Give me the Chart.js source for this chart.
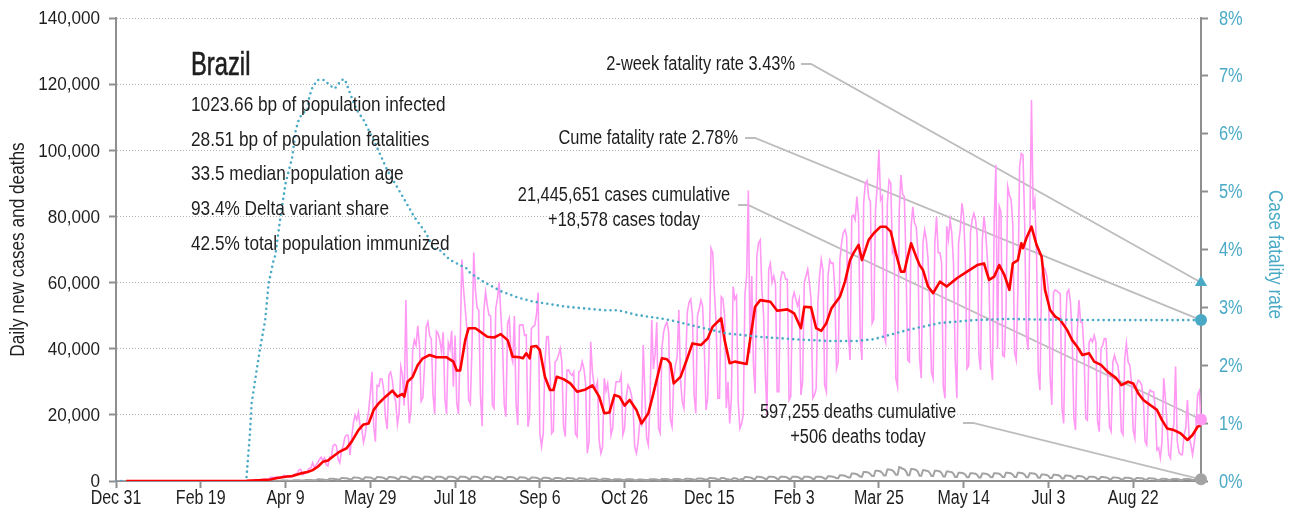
<!DOCTYPE html>
<html>
<head>
<meta charset="utf-8">
<title>Brazil – daily cases, deaths and case fatality rate</title>
<script src="https://cdn.jsdelivr.net/npm/chart.js@4.4.1/dist/chart.umd.min.js"></script>
<style>
  html, body { margin: 0; padding: 0; background: #fff; }
  #wrap { width: 1294px; height: 520px; }
</style>
</head>
<body>
<div id="wrap"><canvas id="chart" width="1294" height="520"></canvas></div>
<script>
// x axis: days since Dec 31, 2019
const tickDays = [0, 50, 100, 150, 200, 250, 300, 350, 400, 450, 500, 550, 600];
const tickLabels = ["Dec 31", "Feb 19", "Apr 9", "May 29", "Jul 18", "Sep 6", "Oct 26",
  "Dec 15", "Feb 3", "Mar 25", "May 14", "Jul 3", "Aug 22"];

// daily new cases (thousands), one row per week Sun..Sat
const dailyCases = [
  0, 0, 0, 0, 0,
  0, 0, 0, 0, 0, 0, 0,
  0, 0, 0, 0, 0, 0, 0,
  0, 0, 0, 0, 0, 0, 0,
  0, 0, 0, 0, 0, 0, 0,
  0, 0, 0, 0, 0, 0, 0,
  0, 0, 0, 0, 0, 0, 0,
  0, 0, 0, 0, 0, 0, 0,
  0, 0, 0, 0.001, 0, 0, 0.001,
  0, 0, 0.001, 0.001, 0.004, 0.005, 0.006,
  0.005, 0.006, 0.009, 0.018, 0.02, 0.052, 0.023,
  0.079, 0.034, 0.057, 0.137, 0.193, 0.283, 0.224,
  0.418, 0.345, 0.31, 0.232, 0.482, 0.502, 0.487,
  0.352, 0.323, 1.138, 1.119, 1.074, 1.146, 1.222,
  0.852, 0.926, 1.2, 1.7, 1.5, 1.6, 1.1,
  1.2, 1.3, 1.9, 2.2, 2.3, 3.4, 3.5,
  1.9, 2.2, 2.4, 3.1, 3.8, 4.0, 5.5,
  4.0, 4.8, 5.6, 6.5, 7.2, 6.2, 7.0,
  4.9, 4.5, 7.2, 7.0, 10.6, 11.1, 10.6,
  6.6, 5.5, 9.2, 10.6, 13.2, 13.9, 13.8,
  7.9, 13.1, 17.4, 19.9, 18.5, 20.8, 16.5,
  15.8, 11.7, 14.0, 18.0, 21.0, 26.5, 33.0,
  16.4, 11.9, 28.9, 28.6, 30.9, 30.8, 27.1,
  18.9, 15.7, 32.1, 32.9, 30.4, 25.9, 24.0,
  17.1, 20.6, 34.6, 32.2, 22.8, 54.7, 28.0,
  17.5, 21.4, 39.4, 42.6, 41.0, 46.9, 41.0,
  24.1, 25.2, 35.0, 46.7, 48.1, 44.0, 42.9,
  26.1, 20.2, 45.3, 44.6, 42.6, 39.0, 45.0,
  24.8, 20.3, 41.8, 39.9, 45.4, 28.5, 44.0,
  23.5, 20.3, 41.0, 67.0, 58.0, 52.0, 46.0,
  24.6, 23.3, 40.8, 69.1, 57.8, 52.4, 51.6,
  25.8, 16.6, 51.6, 57.2, 53.1, 50.2, 49.9,
  23.0, 22.0, 52.2, 55.2, 60.1, 50.6, 41.6,
  23.1, 19.4, 47.8, 49.2, 38.0, 36.0, 49.9,
  23.4, 16.9, 47.1, 47.2, 47.2, 44.0, 44.2,
  16.4, 20.0, 46.0, 46.7, 47.0, 50.2, 57.0,
  14.5, 10.4, 14.3, 35.8, 43.6, 43.7, 33.5,
  14.4, 15.2, 36.0, 36.6, 38.0, 40.0, 36.0,
  16.4, 13.4, 33.5, 33.6, 32.4, 31.9, 33.0,
  14.3, 13.4, 33.0, 33.5, 36.1, 34.0, 29.5,
  8.4, 11.8, 42.1, 33.0, 29.0, 28.0, 30.0,
  12.3, 8.4, 10.2, 31.1, 27.2, 29.4, 24.1,
  13.9, 16.0, 26.0, 30.0, 30.0, 30.0, 32.0,
  14.0, 16.0, 25.5, 29.0, 28.0, 26.0, 22.5,
  10.1, 8.4, 12.0, 18.0, 17.0, 41.1, 26.4,
  13.0, 10.9, 23.9, 48.7, 33.9, 38.3, 48.0,
  16.0, 14.5, 40.0, 45.0, 47.0, 48.0, 45.0,
  18.6, 16.4, 31.0, 35.0, 37.5, 51.7, 30.3,
  24.0, 22.0, 35.0, 51.0, 54.0, 55.0, 50.2,
  26.0, 20.5, 50.0, 52.0, 54.7, 53.0, 41.3,
  21.5, 25.0, 42.0, 70.4, 69.0, 57.0, 47.6,
  25.0, 25.0, 55.7, 55.0, 50.0, 22.0, 30.0,
  17.4, 25.0, 58.8, 55.0, 56.0, 24.0, 15.9,
  17.3, 20.0, 56.6, 62.0, 87.8, 38.6, 62.0,
  35.4, 26.5, 68.0, 72.0, 72.9, 58.0, 50.0,
  33.0, 19.4, 64.0, 65.8, 60.0, 62.0, 59.8,
  27.0, 27.0, 61.0, 63.3, 63.0, 61.0, 61.0,
  24.5, 25.5, 55.0, 57.0, 55.0, 53.0, 55.0,
  26.0, 30.0, 60.0, 62.0, 64.0, 60.0, 55.0,
  25.0, 26.0, 28.0, 53.7, 62.0, 67.0, 63.8,
  29.0, 27.0, 62.0, 66.8, 65.8, 65.9, 58.0,
  34.0, 36.0, 67.0, 72.0, 75.0, 76.0, 74.0,
  44.0, 36.6, 80.0, 80.4, 79.0, 86.0, 80.0,
  43.0, 36.6, 84.0, 90.0, 90.8, 85.6, 84.5,
  47.7, 49.0, 82.0, 89.0, 100.2, 85.0, 86.1,
  44.0, 42.0, 84.0, 91.0, 90.0, 69.0, 70.0,
  31.0, 28.5, 82.0, 92.5, 86.6, 86.0, 66.0,
  36.6, 36.0, 77.0, 82.9, 78.0, 77.0, 69.6,
  37.0, 31.1, 72.0, 75.9, 73.0, 67.0, 53.5,
  33.0, 31.0, 72.0, 79.9, 69.0, 69.0, 66.1,
  28.6, 25.0, 77.0, 73.0, 78.9, 75.0, 66.0,
  37.0, 25.0, 72.0, 76.0, 84.0, 80.0, 67.0,
  34.0, 35.0, 75.0, 79.0, 80.9, 79.0, 74.2,
  38.0, 33.6, 73.0, 80.0, 75.0, 67.0, 59.0,
  36.0, 30.5, 78.0, 95.6, 40.0, 83.0, 81.4,
  38.0, 37.6, 52.0, 89.0, 86.5, 85.0, 77.4,
  39.0, 36.6, 58.0, 95.0, 99.0, 98.6, 77.8,
  44.0, 39.6, 73.0, 115.2, 82.0, 85.0, 68.7,
  33.0, 27.5, 62.0, 64.8, 64.0, 62.0, 57.7,
  32.0, 23.0, 57.0, 57.8, 57.5, 57.0, 56.6,
  22.0, 17.4, 46.0, 57.0, 57.8, 54.0, 44.0,
  19.0, 15.4, 45.0, 54.7, 48.0, 48.0, 39.4,
  19.0, 18.4, 42.0, 43.0, 42.0, 44.0, 42.0,
  18.0, 14.9, 40.0, 41.0, 43.1, 43.0, 31.0,
  16.4, 15.0, 36.0, 38.0, 36.0, 35.0, 30.1,
  15.0, 14.0, 37.0, 41.6, 36.0, 35.0, 30.0,
  15.4, 13.0, 29.0, 30.5, 30.0, 29.0, 24.6,
  12.0, 10.9, 26.0, 27.5, 27.0, 27.0, 22.2,
  9.4, 10.0, 7.0, 12.0, 31.1, 25.0, 16.8,
  8.0, 6.9, 15.0, 17.0, 34.6, 12.0, 8.7,
  8.0, 7.9, 14.0, 16.0, 24.5, 13.0, 11.1,
  8.0, 11.4, 16.0, 26.0, 27.2, 18.578
];

// daily new deaths (thousands), same layout
const dailyDeaths = [
  0, 0, 0, 0, 0,
  0, 0, 0, 0, 0, 0, 0,
  0, 0, 0, 0, 0, 0, 0,
  0, 0, 0, 0, 0, 0, 0,
  0, 0, 0, 0, 0, 0, 0,
  0, 0, 0, 0, 0, 0, 0,
  0, 0, 0, 0, 0, 0, 0,
  0, 0, 0, 0, 0, 0, 0,
  0, 0, 0, 0, 0, 0, 0,
  0, 0, 0, 0, 0, 0, 0,
  0, 0, 0, 0, 0, 0, 0,
  0, 0, 0.001, 0.002, 0.003, 0.004, 0.007,
  0.007, 0.009, 0.012, 0.011, 0.013, 0.019, 0.022,
  0.022, 0.027, 0.042, 0.039, 0.058, 0.061, 0.073,
  0.054, 0.067, 0.114, 0.133, 0.141, 0.115, 0.068,
  0.10, 0.10, 0.21, 0.21, 0.20, 0.20, 0.16,
  0.15, 0.15, 0.31, 0.31, 0.30, 0.29, 0.24,
  0.24, 0.24, 0.50, 0.50, 0.48, 0.46, 0.38,
  0.33, 0.33, 0.69, 0.69, 0.66, 0.63, 0.52,
  0.42, 0.42, 0.88, 0.88, 0.84, 0.81, 0.67,
  0.51, 0.51, 1.06, 1.06, 1.02, 0.98, 0.81,
  0.54, 0.54, 1.13, 1.13, 1.08, 1.04, 0.86,
  0.57, 0.57, 1.19, 1.19, 1.14, 1.09, 0.90,
  0.57, 0.57, 1.19, 1.19, 1.14, 1.09, 0.90,
  0.60, 0.60, 1.25, 1.25, 1.20, 1.15, 0.95,
  0.60, 0.60, 1.25, 1.25, 1.20, 1.15, 0.95,
  0.63, 0.63, 1.31, 1.31, 1.26, 1.21, 1.00,
  0.63, 0.63, 1.31, 1.31, 1.26, 1.21, 1.00,
  0.63, 0.63, 1.31, 1.31, 1.26, 1.21, 1.00,
  0.63, 0.63, 1.31, 1.31, 1.26, 1.21, 1.00,
  0.63, 0.63, 1.31, 1.31, 1.26, 1.21, 1.00,
  0.60, 0.60, 1.25, 1.25, 1.20, 1.15, 0.95,
  0.60, 0.60, 1.25, 1.25, 1.20, 1.15, 0.95,
  0.59, 0.59, 1.23, 1.23, 1.18, 1.13, 0.93,
  0.54, 0.54, 1.13, 1.13, 1.08, 1.04, 0.86,
  0.51, 0.51, 1.06, 1.06, 1.02, 0.98, 0.81,
  0.48, 0.48, 1.00, 1.00, 0.96, 0.92, 0.76,
  0.45, 0.45, 0.94, 0.94, 0.90, 0.86, 0.71,
  0.42, 0.42, 0.88, 0.88, 0.84, 0.81, 0.67,
  0.39, 0.39, 0.81, 0.81, 0.78, 0.75, 0.62,
  0.36, 0.36, 0.75, 0.75, 0.72, 0.69, 0.57,
  0.33, 0.33, 0.69, 0.69, 0.66, 0.63, 0.52,
  0.27, 0.27, 0.56, 0.56, 0.54, 0.52, 0.43,
  0.27, 0.27, 0.56, 0.56, 0.54, 0.52, 0.43,
  0.21, 0.21, 0.44, 0.44, 0.42, 0.40, 0.33,
  0.27, 0.27, 0.56, 0.56, 0.54, 0.52, 0.43,
  0.30, 0.30, 0.63, 0.63, 0.60, 0.58, 0.48,
  0.30, 0.30, 0.63, 0.63, 0.60, 0.58, 0.48,
  0.33, 0.33, 0.69, 0.69, 0.66, 0.63, 0.52,
  0.36, 0.36, 0.75, 0.75, 0.72, 0.69, 0.57,
  0.42, 0.42, 0.88, 0.88, 0.84, 0.81, 0.67,
  0.42, 0.42, 0.88, 0.88, 0.84, 0.55, 0.50,
  0.39, 0.39, 0.81, 0.81, 0.78, 0.45, 0.40,
  0.57, 0.57, 1.19, 1.19, 1.14, 1.09, 0.90,
  0.60, 0.60, 1.25, 1.25, 1.20, 1.15, 0.95,
  0.63, 0.63, 1.31, 1.31, 1.26, 1.21, 1.00,
  0.63, 0.63, 1.31, 1.31, 1.26, 1.21, 1.00,
  0.63, 0.63, 1.31, 1.31, 1.26, 1.21, 1.00,
  0.63, 0.63, 1.31, 1.31, 1.26, 1.21, 1.00,
  0.63, 0.63, 1.31, 1.31, 1.26, 1.21, 1.00,
  0.69, 0.69, 1.44, 1.44, 1.38, 1.32, 1.09,
  0.84, 0.84, 1.75, 1.75, 1.68, 1.61, 1.33,
  1.08, 1.08, 2.25, 2.25, 2.16, 2.07, 1.71,
  1.32, 1.32, 2.75, 2.75, 2.64, 2.53, 2.09,
  1.50, 1.50, 3.13, 3.13, 3.00, 2.88, 2.38,
  1.68, 1.68, 3.50, 3.50, 3.36, 3.22, 2.66,
  1.86, 1.86, 4.20, 4.00, 3.70, 3.50, 2.90,
  1.74, 1.74, 3.63, 3.63, 3.48, 3.34, 2.76,
  1.56, 1.56, 3.25, 3.25, 3.12, 2.99, 2.47,
  1.50, 1.50, 3.13, 3.13, 3.00, 2.88, 2.38,
  1.38, 1.38, 2.88, 2.88, 2.76, 2.65, 2.19,
  1.20, 1.20, 2.50, 2.50, 2.40, 2.30, 1.90,
  1.14, 1.14, 2.38, 2.38, 2.28, 2.19, 1.81,
  1.08, 1.08, 2.25, 2.25, 2.16, 2.07, 1.71,
  1.14, 1.14, 2.38, 2.38, 2.28, 2.19, 1.81,
  1.20, 1.20, 2.50, 2.50, 2.40, 2.30, 1.90,
  1.20, 1.20, 2.50, 2.50, 2.40, 2.30, 1.90,
  1.14, 1.14, 2.38, 2.38, 2.28, 2.19, 1.81,
  0.96, 0.96, 2.00, 2.00, 1.92, 1.84, 1.52,
  0.90, 0.90, 1.88, 1.88, 1.80, 1.73, 1.43,
  0.78, 0.78, 1.63, 1.63, 1.56, 1.50, 1.24,
  0.72, 0.72, 1.50, 1.50, 1.44, 1.38, 1.14,
  0.63, 0.63, 1.31, 1.31, 1.26, 1.21, 1.00,
  0.57, 0.57, 1.19, 1.19, 1.14, 1.09, 0.90,
  0.51, 0.51, 1.06, 1.06, 1.02, 0.98, 0.81,
  0.48, 0.48, 1.00, 1.00, 0.96, 0.92, 0.76,
  0.42, 0.42, 0.88, 0.88, 0.84, 0.81, 0.67,
  0.39, 0.39, 0.81, 0.81, 0.78, 0.75, 0.62,
  0.33, 0.33, 0.45, 0.69, 0.66, 0.63, 0.52,
  0.30, 0.30, 0.63, 0.63, 0.60, 0.58, 0.48,
  0.30, 0.30, 0.63, 0.63, 0.60, 0.58, 0.48,
  0.33, 0.33, 0.69, 0.69, 0.63, 0.506
];

// 7-day average of new cases (thousands)
const avgDays = [
  6, 60, 70, 77, 84, 91, 95, 100, 104, 109,
  113, 116, 119, 122, 125, 128, 132, 136, 139, 143,
  146, 149, 152, 155, 159, 163, 166, 169, 170, 172,
  175, 178, 181, 185, 189, 195, 199, 201, 203, 206,
  208, 212, 215, 219, 223, 227, 231, 234, 238, 240,
  242, 244, 245, 248, 250, 253, 256, 258, 260, 264,
  268, 272, 277, 281, 285, 288, 291, 294, 297, 300,
  303, 307, 310, 314, 317, 322, 325, 327, 329, 333,
  337, 340, 345, 349, 352, 357, 359, 362, 365, 372,
  374, 377, 380, 386, 390, 396, 400, 404, 406, 410,
  413, 416, 419, 422, 427, 430, 433, 435, 438, 440,
  444, 447, 451, 454, 457, 460, 463, 465, 467, 469,
  472, 474, 476, 479, 482, 486, 490, 496, 502, 508,
  512, 515, 518, 521, 524, 527, 529, 532, 534, 535,
  537, 540, 543, 546, 548, 551, 554, 557, 561, 564,
  567, 570, 574, 577, 581, 585, 590, 593, 597, 600,
  603, 606, 610, 614, 617, 620, 624, 628, 632, 635,
  638, 640
];
const avgCases = [
  0, 0, 0.01, 0.05, 0.25, 0.45, 0.9, 1.3, 1.5, 2.3,
  2.7, 3.3, 4.3, 5.8, 6.2, 7.4, 8.9, 9.9, 11.9, 15.4,
  17.1, 17.4, 21.5, 23.5, 25.5, 27.3, 25.5, 26.3, 25.5, 30.0,
  31.5, 35.1, 37.1, 38.1, 37.4, 37.4, 36.1, 33.4, 33.4, 42.6,
  46.2, 46.2, 45.1, 43.6, 43.4, 44.4, 42.6, 37.6, 37.4, 37.1,
  38.6, 37.1, 40.6, 40.8, 39.6, 31.5, 27.5, 27.5, 31.5, 30.8,
  29.5, 27.0, 27.7, 28.9, 25.5, 20.5, 20.7, 26.0, 25.5, 22.8,
  24.5, 21.5, 17.4, 20.5, 26.5, 37.1, 36.8, 35.6, 29.5, 31.5,
  37.1, 41.6, 41.1, 43.1, 46.7, 49.2, 42.6, 35.6, 36.1, 35.4,
  42.6, 52.7, 54.7, 54.2, 51.5, 51.9, 50.7, 46.2, 52.7, 52.5,
  46.2, 45.4, 47.7, 52.2, 55.7, 60.3, 66.8, 68.9, 71.4, 66.8,
  72.9, 74.9, 76.9, 76.9, 75.4, 68.9, 63.3, 63.3, 67.8, 71.9,
  67.8, 65.3, 63.8, 58.8, 56.8, 60.3, 58.8, 61.3, 63.3, 65.3,
  65.8, 60.8, 61.8, 65.3, 62.3, 57.8, 65.8, 66.8, 71.9, 70.4,
  73.4, 76.9, 71.4, 67.8, 57.8, 51.7, 49.7, 48.7, 45.7, 42.6,
  40.6, 38.1, 38.6, 36.1, 35.1, 33.0, 31.1, 29.0, 30.0, 29.5,
  26.5, 24.5, 23.0, 21.5, 18.4, 15.9, 15.4, 14.4, 12.4, 13.9,
  16.4, 16.9
];

// cumulative case fatality rate (%)
const cfrDays = [
  0, 4, 5, 77, 79, 80, 83, 85, 88, 90,
  93, 94, 97, 100, 104, 106, 108, 110, 113, 114,
  116, 119, 123, 126, 129, 133, 135, 138, 142, 146,
  152, 160, 168, 176, 183, 187, 191, 197, 207, 209,
  217, 227, 237, 246, 266, 288, 296, 307, 321, 327,
  341, 360, 380, 400, 419, 437, 447, 467, 486, 506,
  526, 545, 580, 640
];
const cfrRate = [
  0, 0, null, 0.07, 0.82, 1.34, 1.92, 2.29, 2.78, 3.41,
  3.82, 3.90, 4.56, 5.14, 5.60, 6.06, 6.26, 6.35, 6.41, 6.64,
  6.81, 6.93, 6.93, 6.84, 6.78, 6.93, 6.94, 6.70, 6.41, 6.24,
  5.89, 5.37, 4.97, 4.56, 4.28, 4.02, 3.99, 3.82, 3.67, 3.59,
  3.44, 3.28, 3.17, 3.10, 3.01, 2.95, 2.95, 2.87, 2.81, 2.78,
  2.68, 2.55, 2.49, 2.45, 2.42, 2.42, 2.45, 2.61, 2.73, 2.78,
  2.80, 2.79, 2.78, 2.78
];

const country = "Brazil";
const infoLines = [
  "1023.66 bp of population infected",
  "28.51 bp of population fatalities",
  "33.5 median population age",
  "93.4% Delta variant share",
  "42.5% total population immunized"
];
const twoWeekRate = 3.43;
const cumeRate = 2.78;
const casesCumulative = 21445651;
const deathsCumulative = 597255;

// no condensed face is installed, so text is drawn narrowed by hand
const FONT = '"Liberation Sans", Arial, sans-serif';
const TEAL = "#4aaac6";
const PINK = "#ff99f4";
const RED = "#ff0000";
const GREY = "#a3a3a3";
const AXIS = "#8f8f8f";
const GRID = "#b4b4b4";
const LEADER = "#bdbdbd";
const INK = "#1e1e1e";

Chart.defaults.font.family = FONT;

const lastDay = dailyCases.length - 1;
const casesToday = Math.round(dailyCases[lastDay] * 1000);
const deathsToday = Math.round(dailyDeaths[lastDay] * 1000);
const fmt = (n) => n.toLocaleString("en-US");

const daily = (arr) => arr.map((v, i) => ({ x: i, y: v * 1000 }));
const paired = (xs, ys, k) => xs.map((d, i) => ({ x: d, y: ys[i] === null ? null : ys[i] * k }));

function narrowText(ctx, text, x, y, o) {
  ctx.save();
  ctx.translate(x, y);
  if (o.rotate) ctx.rotate(o.rotate);
  ctx.scale(o.squeeze || 0.82, 1);
  ctx.font = o.size + "px " + FONT;
  ctx.fillStyle = o.color || INK;
  ctx.textAlign = o.align || "left";
  ctx.textBaseline = o.baseline || "middle";
  ctx.fillText(text, 0, 0);
  if (o.stroke) {
    ctx.strokeStyle = o.color || INK;
    ctx.lineWidth = o.stroke;
    ctx.strokeText(text, 0, 0);
  }
  ctx.restore();
}

// callouts on the right: text block, where its leader starts, and the value it points to
const callouts = [
  { lines: ["2-week fatality rate " + twoWeekRate.toFixed(2) + "%"], align: "right",
    tx: 795, ty: 64, sx: 801, sy: 64, axis: "y1", value: twoWeekRate },
  { lines: ["Cume fatality rate " + cumeRate.toFixed(2) + "%"], align: "right",
    tx: 738, ty: 138, sx: 745, sy: 138, axis: "y1", value: cumeRate },
  { lines: [fmt(casesCumulative) + " cases cumulative", "+" + fmt(casesToday) + " cases today"],
    align: "center", tx: 624, ty: 195, sx: 738, sy: 205, axis: "y", value: casesToday },
  { lines: [fmt(deathsCumulative) + " deaths cumulative", "+" + fmt(deathsToday) + " deaths today"],
    align: "center", tx: 858, ty: 412, sx: 963, sy: 423, axis: "y", value: deathsToday }
];

const textLayer = {
  id: "textLayer",
  beforeDatasetsDraw(chart) {
    const { ctx, scales } = chart;
    const ex = scales.x.getPixelForValue(lastDay);
    ctx.save();
    ctx.strokeStyle = LEADER;
    ctx.lineWidth = 1.8;
    callouts.forEach((c) => {
      const ey = scales[c.axis].getPixelForValue(c.value);
      ctx.beginPath();
      ctx.moveTo(c.sx, c.sy);
      ctx.lineTo(c.sx + 10, c.sy);
      ctx.lineTo(ex, ey);
      ctx.stroke();
    });
    ctx.restore();
  },
  afterDatasetsDraw(chart) {
    const { ctx, scales, chartArea } = chart;

    // tick labels
    scales.x.ticks.forEach((t) => {
      narrowText(ctx, tickLabels[tickDays.indexOf(t.value)], scales.x.getPixelForValue(t.value), 499,
        { size: 19.5, align: "center" });
    });
    scales.y.ticks.forEach((t) => {
      narrowText(ctx, fmt(t.value), chartArea.left - 16, scales.y.getPixelForValue(t.value) + 1,
        { size: 19, align: "right", squeeze: 0.9 });
    });
    scales.y1.ticks.forEach((t) => {
      narrowText(ctx, t.value + "%", chartArea.right + 18, scales.y1.getPixelForValue(t.value) + 1,
        { size: 20, color: TEAL });
    });

    // axis titles
    const midY = (chartArea.top + chartArea.bottom) / 2;
    narrowText(ctx, "Daily new cases and deaths", 18, midY,
      { size: 21, align: "center", rotate: -Math.PI / 2 });
    narrowText(ctx, "Case fatality rate", 1275, midY + 5,
      { size: 21, align: "center", rotate: Math.PI / 2, color: TEAL });

    // callout text
    callouts.forEach((c) => {
      c.lines.forEach((t, i) => narrowText(ctx, t, c.tx, c.ty + i * 25, { size: 20, align: c.align }));
    });

    // country summary, top left
    narrowText(ctx, country, 191, 75, { size: 33, squeeze: 0.72, baseline: "alphabetic", stroke: 0.6 });
    infoLines.forEach((t, i) => narrowText(ctx, t, 191, 111 + i * 34.7, { size: 21, baseline: "alphabetic" }));
  }
};

const marker = (value, axis, style, color, radius) => ({
  data: [{ x: lastDay, y: value }],
  yAxisID: axis,
  showLine: false,
  pointStyle: style,
  pointRadius: radius,
  pointBackgroundColor: color,
  pointBorderColor: color,
  pointBorderWidth: 0,
  clip: false,
  order: 0
});

new Chart(document.getElementById("chart"), {
  type: "line",
  data: {
    datasets: [
      marker(twoWeekRate, "y1", "triangle", TEAL, 7),
      marker(cumeRate, "y1", "circle", TEAL, 6),
      marker(casesToday, "y", "circle", PINK, 6),
      marker(deathsToday, "y", "circle", GREY, 6),
      {
        label: "Case fatality rate",
        data: paired(cfrDays, cfrRate, 1),
        yAxisID: "y1",
        borderColor: TEAL,
        borderWidth: 2.6,
        borderDash: [0, 5.3],
        borderCapStyle: "round",
        pointRadius: 0,
        spanGaps: false,
        order: 1
      },
      {
        label: "7-day average",
        data: paired(avgDays, avgCases, 1000),
        yAxisID: "y",
        borderColor: RED,
        borderWidth: 2.6,
        borderJoinStyle: "round",
        pointRadius: 0,
        order: 2
      },
      {
        label: "Daily deaths",
        data: daily(dailyDeaths),
        yAxisID: "y",
        borderColor: GREY,
        borderWidth: 2,
        pointRadius: 0,
        order: 3
      },
      {
        label: "Daily cases",
        data: daily(dailyCases),
        yAxisID: "y",
        borderColor: PINK,
        borderWidth: 1.6,
        pointRadius: 0,
        order: 4
      }
    ]
  },
  options: {
    responsive: false,
    devicePixelRatio: 1,
    animation: false,
    events: [],
    layout: { padding: { top: 18, right: 0, bottom: 0, left: 0 } },
    plugins: { legend: { display: false }, tooltip: { enabled: false } },
    scales: {
      x: {
        type: "linear",
        min: 0,
        max: lastDay,
        afterBuildTicks: (s) => { s.ticks = tickDays.map((v) => ({ value: v })); },
        afterFit: (s) => { s.height = 39; },
        ticks: { display: false },
        grid: { drawOnChartArea: false, tickLength: 7, tickColor: AXIS, tickWidth: 2 },
        border: { color: AXIS, width: 2 }
      },
      y: {
        position: "left",
        min: 0,
        max: 140000,
        afterFit: (s) => { s.width = 116; },
        ticks: { stepSize: 20000, display: false },
        grid: { color: GRID, lineWidth: 1, tickLength: 7, tickColor: AXIS, tickWidth: 2 },
        border: { color: AXIS, width: 2, dash: [1, 2] }
      },
      y1: {
        position: "right",
        min: 0,
        max: 8,
        afterFit: (s) => { s.width = 93; },
        ticks: { stepSize: 1, display: false },
        grid: { drawOnChartArea: false, tickLength: 7, tickColor: AXIS, tickWidth: 2 },
        border: { color: AXIS, width: 2 }
      }
    }
  },
  plugins: [textLayer]
});
</script>
</body>
</html>
